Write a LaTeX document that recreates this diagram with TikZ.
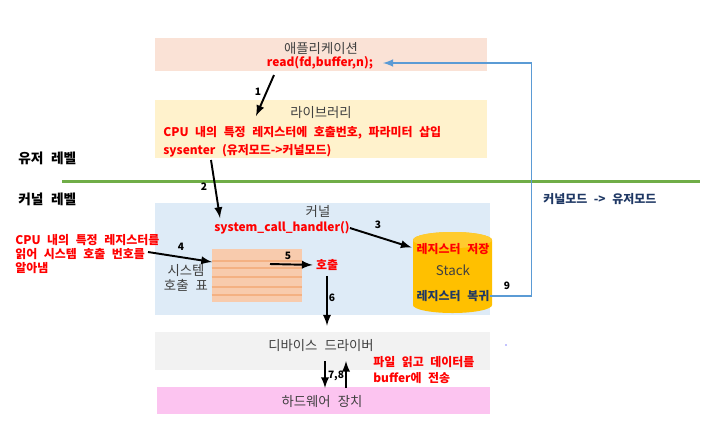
\documentclass[tikz,border=0pt]{standalone}
\usepackage{fontspec}
\setmainfont[WordSpace=2.4]{Noto Sans CJK KR}
\usetikzlibrary{arrows}

\definecolor{appfill}{HTML}{FAE2D6}
\definecolor{libfill}{HTML}{FFF2CC}
\definecolor{kernfill}{HTML}{DEEBF7}
\definecolor{drvfill}{HTML}{F2F2F2}
\definecolor{hwfill}{HTML}{FCC4F0}
\definecolor{tblfill}{HTML}{F8CBAD}
\definecolor{tblline}{HTML}{F4B183}
\definecolor{stackfill}{HTML}{FFC000}
\definecolor{stacktop}{HTML}{FFCB2E}
\definecolor{txtgray}{HTML}{404040}
\definecolor{navy}{HTML}{1F3864}
\definecolor{levelgreen}{HTML}{70AD47}
\definecolor{backblue}{HTML}{5B9BD5}

\tikzset{
    box/.style={inner sep=0pt},
    title/.style={text=txtgray, font=\fontsize{7.6}{8.6}\selectfont, inner sep=0pt},
    redtxt/.style={text=red, font=\fontsize{6.8}{8}\selectfont\bfseries, inner sep=0pt},
    navytxt/.style={text=navy, font=\fontsize{6.8}{8}\selectfont\bfseries, inner sep=0pt},
    side/.style={font=\fontsize{7.8}{9}\selectfont\bfseries, inner sep=0pt},
    num/.style={font=\fontsize{5.8}{7}\selectfont\bfseries, inner sep=0pt},
    flow/.style={-latex, line width=1.1pt},
}

\begin{document}
\begin{tikzpicture}[x=0.02cm, y=-0.02cm]
                \useasboundingbox (0,0) rectangle (704,441);

                % layers
                \node (appbox) at (321,54.5)[box, fill=appfill, minimum width=6.64cm, minimum height=0.66cm]{};
                \node (libbox) at (321,129)[box, fill=libfill, minimum width=6.64cm, minimum height=1.16cm]{};
                \node (kernbox) at (322.5,259)[box, fill=kernfill, minimum width=6.7cm, minimum height=2.24cm]{};
                \node (drvbox) at (322.5,351)[box, fill=drvfill, minimum width=6.7cm, minimum height=0.76cm]{};
                \node (hwbox) at (323.5,400.5)[box, fill=hwfill, minimum width=6.66cm, minimum height=0.54cm]{};

                % user / kernel border
                \coordinate (gl) at (62,181);
                \coordinate (gr) at (700,181);
                \draw[levelgreen, line width=1.7pt] (gl) -- (gr);
                \node (user) at (18,158)[side, anchor=west]{유저 레벨};
                \node (kernlvl) at (18,199)[side, anchor=west]{커널 레벨};

                % system call table
                \node (tblbox) at (257,275.5)[box, fill=tblfill, minimum width=1.8cm, minimum height=1.06cm]{};
                \foreach \y in {261,268,277,287,295}
                    {
                        \draw[tblline, line width=0.6pt] (tblbox.west |- 0,\y) -- (tblbox.east |- 0,\y);
                    }
                \node (tblname) at (186,277.5)[title, align=center]{시스템\\호출 표};

                % stack
                \fill[stackfill] (413,240) -- (413,305) arc[start angle=180, end angle=0, x radius=39.5, y radius=8]
                    -- (492,240) arc[start angle=0, end angle=-180, x radius=39.5, y radius=8] -- cycle;
                \fill[stacktop] (452.5,240) ellipse (39.5 and 8);

                % texts
                \node (app) at (321,48)[title]{애플리케이션};
                \node (read) at (320,63)[redtxt]{read(fd,buffer,n);};
                \node (lib) at (321,112)[title]{라이브러리};
                \node (insert) at (163,133)[redtxt, anchor=west]{CPU 내의 특정 레지스터에 호출번호, 파라미터 삽입};
                \node (sysenter) at (163,151)[redtxt, anchor=west]{sysenter (유저모드->커널모드)};
                \node (kern) at (318,211)[title]{커널};
                \node (handler) at (282,228)[redtxt]{system\_call\_handler()};
                \node (call) at (327,265)[redtxt]{호출};
                \node (save) at (453,249)[redtxt]{레지스터 저장};
                \node (stack) at (453,270)[title]{Stack};
                \node (restore) at (453,296)[navytxt]{레지스터 복귀};
                \node (readreg) at (15,254)[redtxt, anchor=west, align=left]{CPU 내의 특정 레지스터를\\읽어 시스템 호출 번호를\\알아냄};
                \node (drv) at (321,345)[title]{디바이스 드라이버};
                \node (hw) at (322,401)[title]{하드웨어 장치};
                \node (transfer) at (373,370)[redtxt, anchor=west, align=left, font=\fontsize{6.8}{9}\selectfont\bfseries]{파일 읽고 데이터를\\buffer에 전송};
                \node (k2u) at (543,199)[navytxt, anchor=west]{커널모드 -> 유저모드};

                % flow
                \coordinate (a1s) at (274,75);
                \coordinate (a1e) at (256,116);
                \coordinate (a2s) at (211,160);
                \coordinate (a2e) at (220,218);
                \coordinate (a4s) at (148,252);
                \coordinate (a4e) at (212,262);
                \coordinate (a5s) at (270,264);
                \coordinate (d7) at (325,361);
                \coordinate (h7) at (325,388);
                \coordinate (h8) at (346,388);
                \coordinate (d8) at (346,361);
                \coordinate (readin) at (383,63);

                \draw[flow] (a1s) -- (a1e);
                \draw[flow] (a2s) -- (a2e);
                \draw[flow, shorten >=1mm] (handler.east) -- (save.west);
                \draw[flow] (a4s) -- (a4e);
                \draw[flow, shorten >=0.6mm] (a5s) -- (call.west);
                \draw[flow] ([yshift=-0.1cm]call.south) -- ([yshift=0.12cm]call.south |- drvbox.north);
                \draw[flow] (d7) -- (h7);
                \draw[flow] (h8) -- (d8);
                \draw[-latex, backblue, line width=1pt] (restore.east) -- ++(42,0) |- (readin);

                \node (n1) at (258,92)[num]{1};
                \node (n2) at (204,187)[num]{2};
                \node (n3) at (378,225)[num]{3};
                \node (n4) at (181,247)[num]{4};
                \node (n5) at (288,256)[num]{5};
                \node (n6) at (332,298)[num]{6};
                \node (n78) at (336,376)[num]{7,8};
                \node (n9) at (507,286)[num]{9};

                \fill[blue] (506,345) circle (0.7);
            \end{tikzpicture}
\end{document}
